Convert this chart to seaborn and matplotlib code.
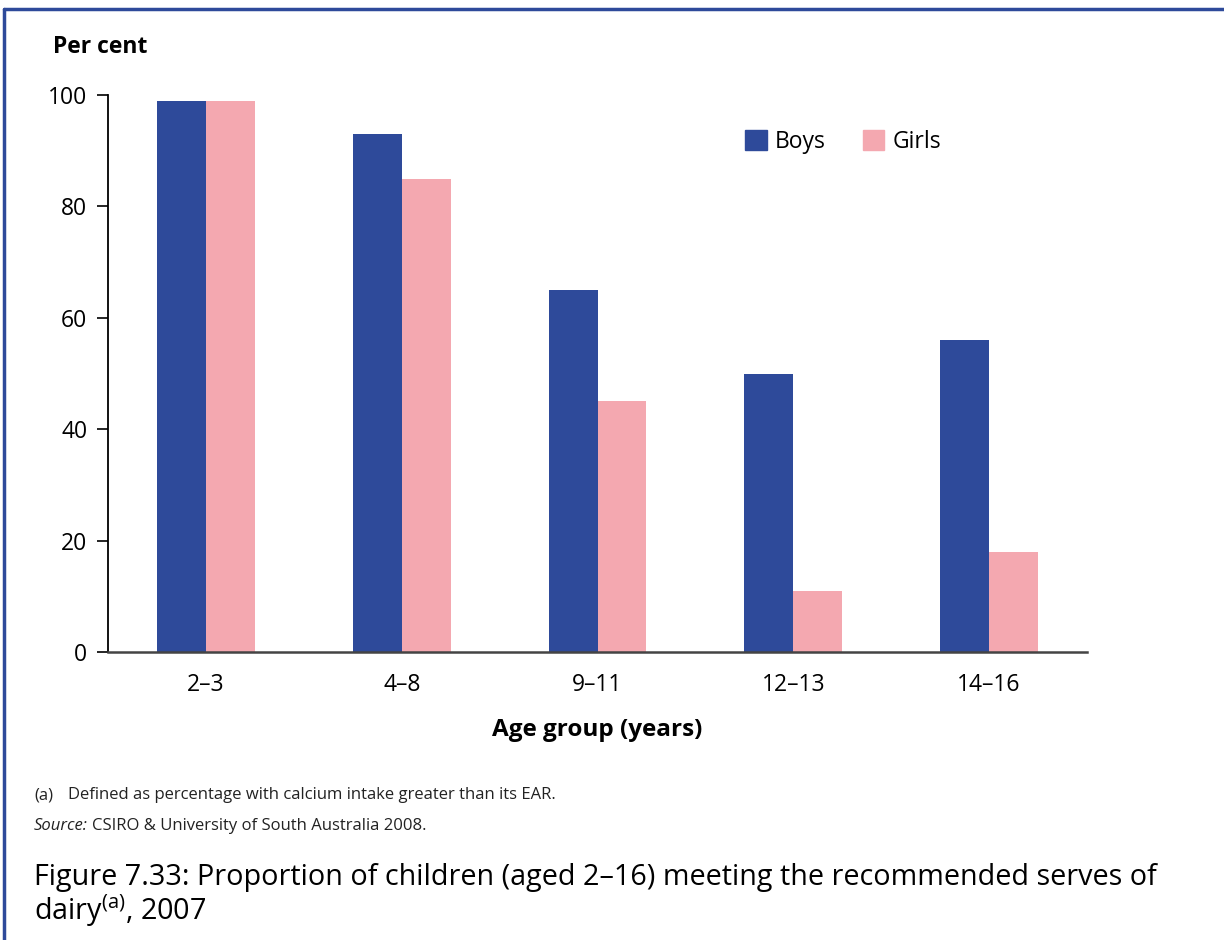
import matplotlib
matplotlib.use("Agg")
import matplotlib.pyplot as plt
import seaborn as sns
import pandas as pd
from matplotlib.lines import Line2D
from matplotlib.patches import Patch

# data
age_groups = ["2–3", "4–8", "9–11", "12–13", "14–16"]
boys = [99, 93, 65, 50, 56]
girls = [99, 85, 45, 11, 18]
y_ticks = [0, 20, 40, 60, 80, 100]

BLUE = "#2E4A9A"
PINK = "#F4A8B0"

sns.set_theme(style="white")
plt.rcParams["font.family"] = ["Open Sans", "DejaVu Sans"]
plt.rcParams["mathtext.fontset"] = "custom"
plt.rcParams["mathtext.rm"] = "Open Sans"
plt.rcParams["text.color"] = "black"
plt.rcParams["xtick.color"] = "black"
plt.rcParams["ytick.color"] = "black"
plt.rcParams["axes.labelcolor"] = "black"

df = pd.DataFrame({
    "age": age_groups * 2,
    "sex": ["Boys"] * len(boys) + ["Girls"] * len(girls),
    "pct": boys + girls,
})

fig = plt.figure(figsize=(12.24, 9.4), dpi=100)
ax = fig.add_axes([108 / 1224, 1 - 652 / 940, (1087 - 108) / 1224, (652 - 95) / 940])

sns.barplot(data=df, x="age", y="pct", hue="sex", palette=[BLUE, PINK],
            width=0.5, saturation=1, ax=ax, legend=False, linewidth=0)

ax.set_xlim(-0.5, 4.5)
ax.set_ylim(0, 100)
ax.set_yticks(y_ticks)
ax.set_xlabel("Age group (years)", fontsize=17.5, fontweight="bold", labelpad=15)
ax.set_ylabel("")
ax.tick_params(axis="y", length=8, width=1.2, color="black", labelsize=16.5, pad=7, left=True)
ax.tick_params(axis="x", length=0, labelsize=16.5, pad=15)

for s in ["top", "right"]:
    ax.spines[s].set_visible(False)
ax.spines["left"].set_color("black")
ax.spines["left"].set_linewidth(1.3)
ax.spines["bottom"].set_color("#444444")
ax.spines["bottom"].set_linewidth(1.8)

fig.text(53 / 1224, 1 - 47 / 940, "Per cent", fontsize=16.5, fontweight="bold",
         ha="left", va="center")

handles = [Patch(color=BLUE, label="Boys"), Patch(color=PINK, label="Girls")]
fig.legend(handles=handles, ncol=2, frameon=False, fontsize=16.5,
           handlelength=0.95, handleheight=0.95, handletextpad=0.35, columnspacing=1.6,
           borderaxespad=0, loc="center left", bbox_to_anchor=(736 / 1224, 1 - 142 / 940))

# footnotes
fig.text(34 / 1224, 1 - 795 / 940, "(a)", fontsize=12, color="#222222", va="center")
fig.text(68 / 1224, 1 - 795 / 940, "Defined as percentage with calcium intake greater than its EAR.",
         fontsize=12, color="#222222", va="center")
src = fig.text(34 / 1224, 1 - 826 / 940, "Source:", fontsize=12, style="italic",
               color="#222222", va="center")
fig.canvas.draw()
ext = src.get_window_extent()
fig.text((ext.x1 + 4) / 1224, 1 - 826 / 940, "CSIRO & University of South Australia 2008.",
         fontsize=12, color="#222222", va="center")

fig.text(34 / 1224, 1 - 877 / 940,
         "Figure 7.33: Proportion of children (aged 2–16) meeting the recommended serves of",
         fontsize=20.7, va="center")
fig.text(34 / 1224, 1 - 911 / 940, r"dairy$^{\mathregular{(a)}}$, 2007",
         fontsize=20.7, va="center")

# frame lines (top and left)
fig.add_artist(Line2D([4 / 1224, 1], [1 - 9 / 940, 1 - 9 / 940], color=BLUE, lw=2.5,
                      transform=fig.transFigure))
fig.add_artist(Line2D([4 / 1224, 4 / 1224], [0, 1 - 9 / 940], color=BLUE, lw=2.5,
                      transform=fig.transFigure))

fig.savefig("out.png", dpi=100)
